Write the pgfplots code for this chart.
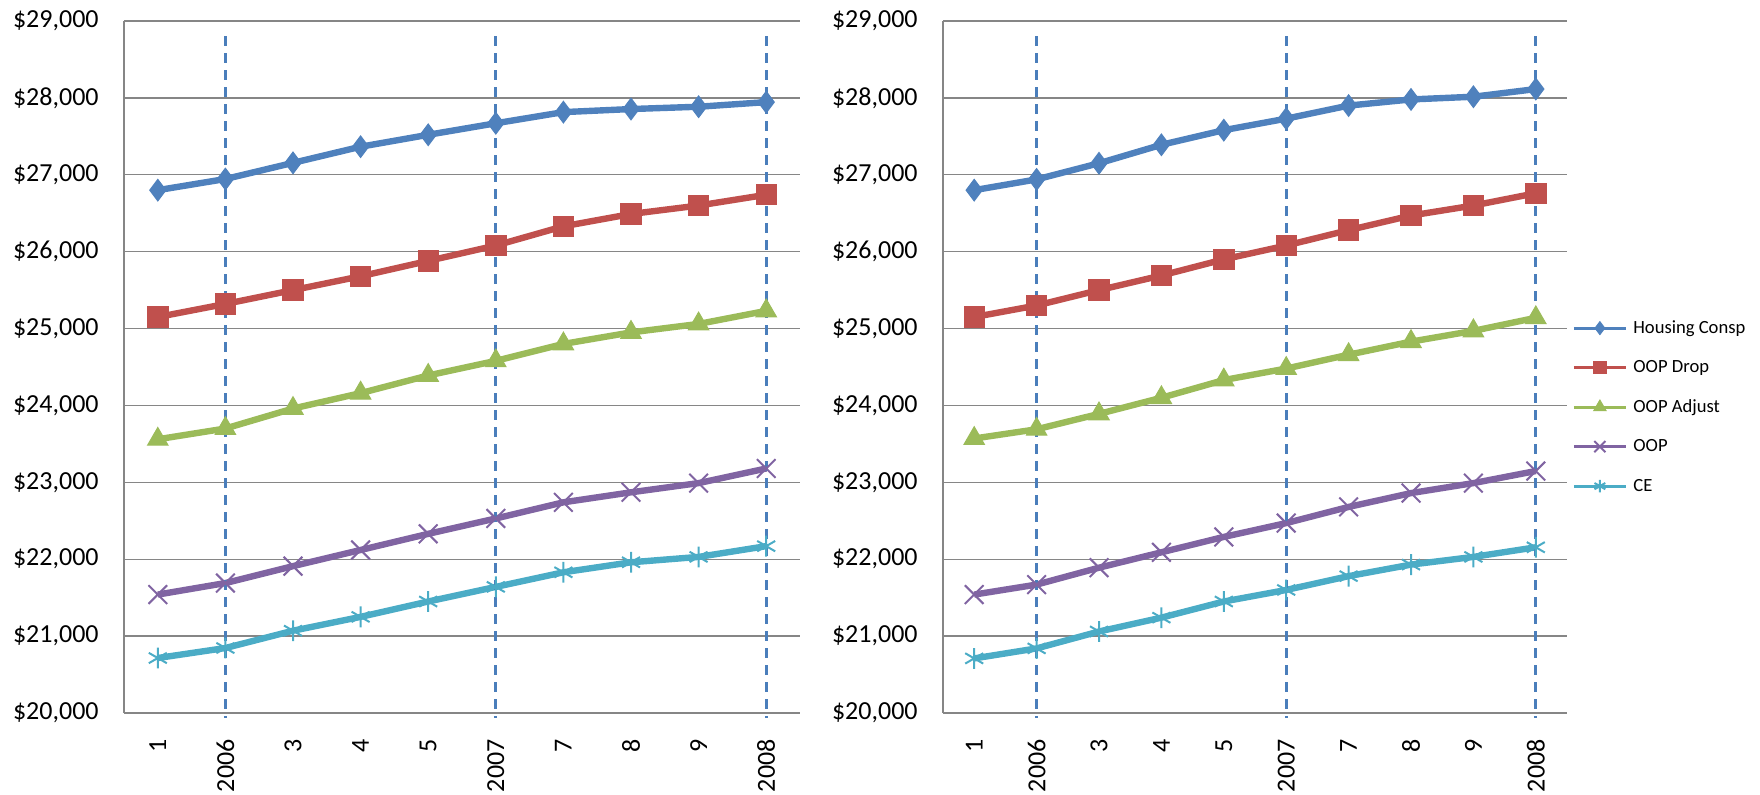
\documentclass[border=0pt]{standalone}
\usepackage{fontspec}
\setmainfont{Carlito}
\usepackage{pgfplots}
\usepackage{pgfplotstable}
\pgfplotsset{compat=1.18}

\definecolor{cHousing}{HTML}{4F81BD}
\definecolor{cDrop}{HTML}{C0504D}
\definecolor{cAdjust}{HTML}{9BBB59}
\definecolor{cOOP}{HTML}{8064A2}
\definecolor{cCE}{HTML}{4BACC6}
\definecolor{cDash}{HTML}{4A7EBB}
\definecolor{cGrid}{HTML}{868686}

% left panel
\pgfplotstableread{
x hc drop adj oop ce
0 26800 25150 23560 21540 20715
1 26945 25320 23700 21690 20845
2 27155 25500 23960 21910 21070
3 27365 25680 24160 22120 21250
4 27520 25880 24390 22330 21450
5 27670 26080 24580 22530 21640
6 27815 26330 24800 22740 21830
7 27855 26490 24950 22870 21960
8 27885 26600 25060 22990 22030
9 27945 26740 25230 23180 22170
}\lefttab

% right panel
\pgfplotstableread{
x hc drop adj oop ce
0 26800 25150 23570 21540 20710
1 26940 25300 23690 21670 20840
2 27150 25500 23890 21890 21060
3 27390 25690 24100 22090 21240
4 27580 25900 24330 22290 21450
5 27730 26080 24480 22470 21600
6 27900 26280 24660 22680 21780
7 27980 26470 24830 22860 21930
8 28015 26600 24970 22990 22030
9 28115 26760 25140 23147 22155
}\righttab

\pgfplotsset{
  panel/.style={
    scale only axis, height=346pt,
    xmin=-0.5, xmax=9.5, ymin=20000, ymax=29000,
    xtick={0,...,9}, xticklabels={1,2006,3,4,5,2007,7,8,9,2008},
    ytick={20000,21000,...,29000},
    scaled y ticks=false,
    /pgf/number format/fixed,
    /pgf/number format/precision=0,
    /pgf/number format/1000 sep={,},
    /pgf/number format/assume math mode=true,
    yticklabel={\$\pgfmathprintnumber{\tick}},
    axis x line*=bottom, axis y line*=left,
    axis line style={cGrid, line width=0.7pt},
    major tick length=0pt,
    ymajorgrids, grid style={cGrid, line width=0.7pt},
    tick label style={font=\fontsize{13}{15}\selectfont, black},
    yticklabel style={inner sep=0pt, xshift=-12.5pt},
    xticklabel style={inner sep=0pt, yshift=-13pt, rotate=90, anchor=east},
    clip=false,
    legend image code/.code={
      \draw[mark repeat=2, mark phase=2, ##1, line width=1.5pt,
            every mark/.append style={scale=0.6}]
        plot coordinates {(0pt,0pt) (13pt,0pt) (26pt,0pt)};
    },
  },
  sHousing/.style={cHousing, line width=3.2pt, mark=diamond*, mark size=5.4pt,
    mark options={solid, line width=0.5pt, fill=cHousing}},
  sDrop/.style={cDrop, line width=3.2pt, mark=square*, mark size=5.1pt,
    mark options={solid, line width=0.5pt, fill=cDrop}},
  sAdjust/.style={cAdjust, line width=3.2pt, mark=triangle*, mark size=5.9pt,
    mark options={solid, line width=0.5pt, fill=cAdjust}},
  sOOP/.style={cOOP, line width=3.2pt, mark=x, mark size=6.6pt,
    mark options={solid, line width=1pt}},
  sCE/.style={cCE, line width=3.2pt, mark=asterisk, mark size=5.2pt,
    mark options={solid, line width=1pt}},
  sDash/.style={cDash, line width=1.4pt, dash pattern=on 5pt off 3.5pt, mark=none, forget plot},
}

\begin{document}
\begin{tikzpicture}

\begin{axis}[panel, width=338pt, at={(62pt,41pt)}, anchor=south west]
  \addplot[sHousing] table[x=x, y=hc] {\lefttab};
  \addplot[sDrop] table[x=x, y=drop] {\lefttab};
  \addplot[sAdjust] table[x=x, y=adj] {\lefttab};
  \addplot[sOOP] table[x=x, y=oop] {\lefttab};
  \addplot[sCE] table[x=x, y=ce] {\lefttab};
  \addplot[sDash] coordinates {(1,28805) (1,19935)};
  \addplot[sDash] coordinates {(5,28805) (5,19935)};
  \addplot[sDash] coordinates {(9,28805) (9,19935)};
\end{axis}

\begin{axis}[panel, width=312pt, at={(471.5pt,41pt)}, anchor=south west,
  legend style={draw=none, fill=none, inner sep=0pt,
    at={(axis description cs:1.008,0.442)}, anchor=west,
    font=\fontsize{9.3}{11}\selectfont,
    nodes={inner sep=0pt, text height=7pt, text depth=2pt},
    row sep=10.75pt, column sep=3pt},
  legend cell align=left]
  \addplot[sHousing] table[x=x, y=hc] {\righttab};
  \addplot[sDrop] table[x=x, y=drop] {\righttab};
  \addplot[sAdjust] table[x=x, y=adj] {\righttab};
  \addplot[sOOP] table[x=x, y=oop] {\righttab};
  \addplot[sCE] table[x=x, y=ce] {\righttab};
  \addplot[sDash] coordinates {(1,28805) (1,19935)};
  \addplot[sDash] coordinates {(5,28805) (5,19935)};
  \addplot[sDash] coordinates {(9,28805) (9,19935)};
  \legend{Housing Consp, OOP Drop, OOP Adjust, OOP, CE}
\end{axis}

\pgfresetboundingbox
\path (0,0) rectangle (880pt,397.5pt);
\end{tikzpicture}
\end{document}
